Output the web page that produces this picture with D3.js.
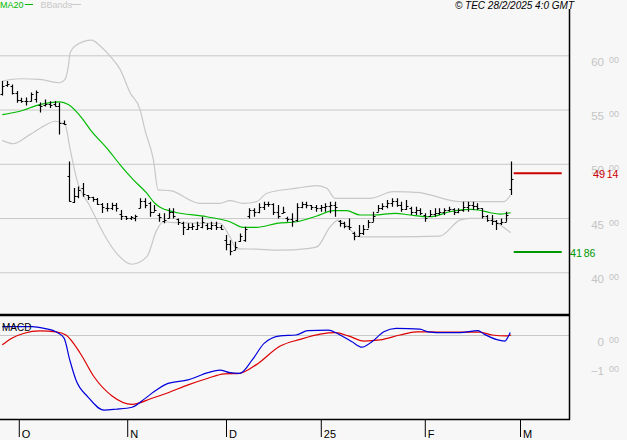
<!DOCTYPE html>
<html><head><meta charset="utf-8">
<script src="https://cdn.jsdelivr.net/npm/d3@7"></script>
<style>html,body{margin:0;padding:0;background:#f7f7f7;}svg{display:block;}</style>
</head><body><svg id="c" width="627" height="440"></svg>
<script>
// ---- data ----
const opens = [
56.4,57.3,57.2,56.5,55.9,55.8,55.8,56.0,55.4,55.4,
55.5,55.5,55.3,53.8,48.9,46.5,47.0,47.8,47.1,46.9,
46.8,46.3,45.9,45.9,46.2,45.4,45.2,45.0,45.0,45.9,
46.6,46.4,45.6,45.3,44.7,45.0,45.6,44.9,44.5,44.0,
44.2,44.0,44.2,44.4,44.1,44.4,44.2,43.0,42.6,42.1,
42.9,43.0,45.2,45.7,45.6,46.0,46.3,46.3,45.6,45.5,
45.0,44.9,44.8,46.0,46.3,46.2,46.0,45.9,46.0,46.1,
46.2,44.7,44.5,44.3,43.6,43.3,43.6,44.0,44.6,45.6,
45.9,46.1,46.4,46.6,46.2,45.8,45.9,45.6,45.7,45.3,
45.2,45.4,45.5,45.6,45.7,45.8,45.6,45.7,46.0,46.2,
46.1,45.9,45.2,44.8,44.7,44.5,44.6,47.66];
const highs = [
57.62,57.62,57.31,56.70,56.08,56.10,56.57,56.76,55.65,55.93,
55.77,55.77,55.62,54.00,50.21,47.78,47.90,48.24,47.13,46.97,
46.85,46.39,46.39,46.42,46.39,45.74,45.20,45.20,45.30,46.82,
46.82,46.51,46.20,45.44,45.44,45.90,45.90,44.97,44.66,44.51,
44.51,44.66,45.12,44.51,44.66,44.66,44.35,43.43,42.96,42.81,
43.58,44.20,45.90,45.90,46.36,46.51,46.51,46.36,46.20,46.05,
45.12,45.44,46.36,46.51,46.51,46.20,46.20,46.20,46.36,46.51,
46.51,44.81,44.66,44.97,43.74,44.35,44.35,44.81,45.58,46.20,
46.36,46.67,46.82,46.82,46.51,46.67,46.05,46.05,45.90,45.44,
45.74,45.90,45.90,45.90,46.05,45.90,45.90,46.51,46.51,46.51,
46.36,45.90,45.28,45.28,44.81,44.97,45.58,50.21];
const lows = [
56.30,57.10,56.39,55.62,55.62,55.37,55.74,55.65,54.72,55.28,
55.15,55.28,52.69,53.60,46.51,46.39,46.82,46.97,46.67,46.50,
46.20,45.46,45.60,45.74,45.60,44.81,44.81,44.81,44.70,45.90,
45.90,45.12,45.58,44.66,44.51,44.97,44.97,44.35,43.43,43.89,
43.89,43.89,44.05,43.89,43.89,43.89,43.89,42.04,41.57,42.04,
42.81,42.81,44.97,45.12,45.44,45.74,46.05,45.28,44.97,45.44,
44.66,44.20,44.66,45.90,45.90,45.74,45.58,45.58,45.58,45.44,
45.12,44.20,44.05,43.89,42.96,43.27,43.43,44.05,44.66,45.58,
45.74,45.90,46.05,46.05,45.58,45.74,45.28,45.28,45.28,44.66,
45.12,45.12,45.28,45.28,45.58,45.28,45.44,45.58,45.58,45.74,
45.74,44.97,44.66,44.35,43.89,44.35,44.66,47.13];
const closes = [
57.20,57.40,56.50,55.90,55.80,55.80,56.40,56.60,55.30,55.55,
55.40,55.30,53.80,53.70,46.60,47.00,47.60,47.20,46.90,46.80,
46.30,46.00,45.90,46.20,45.90,45.20,45.00,45.10,45.20,46.60,
46.20,45.60,45.70,45.10,44.80,45.60,45.20,44.60,44.20,44.20,
44.30,44.40,44.60,44.10,44.40,44.20,44.00,42.60,42.00,42.30,
43.30,44.00,45.70,45.60,46.00,46.30,46.30,45.60,45.20,45.60,
44.90,44.70,46.00,46.30,46.20,46.00,45.90,46.00,46.10,46.20,
46.00,44.50,44.30,44.20,43.30,43.60,44.00,44.60,45.20,45.90,
46.10,46.40,46.60,46.20,45.80,46.10,45.60,45.70,45.50,45.00,
45.40,45.50,45.60,45.70,45.80,45.60,45.70,46.00,46.20,46.10,
45.90,45.20,44.80,44.70,44.50,44.60,45.30,48.58];

// indicator samples: [bar index, value]
const ma20 = [[0,54.54],[3.7,54.84],[7.9,55.46],[12.1,55.71],[13.9,55.46],[17,54.07],[18.5,53.15],[22,51.45],[24.8,49.91],[27.6,48.52],[30.4,47.29],[32.1,46.36],[33.2,45.99],[36,45.58],[43,45.12],[47.9,44.66],[50.7,44.14],[53.5,44.14],[57.8,44.51],[62,44.66],[66.2,45.19],[69.7,45.68],[72.5,45.68],[75.3,45.28],[78.1,45.28],[82.7,45.44],[85.8,45.28],[90,45.12],[94.2,45.58],[98.5,45.80],[100.2,45.74],[102.7,45.49],[104.8,45.37],[107,45.49]];
const bbUpper = [[0,57.62],[3.7,57.84],[7.9,57.78],[12.1,57.47],[13.2,57.78],[13.9,59.01],[14.3,60.25],[15.3,60.86],[18.8,61.39],[20.6,60.86],[22.7,59.93],[24.8,58.70],[26.9,56.55],[29,55.00],[30,53.15],[31.8,50.37],[32.8,47.59],[35.3,47.53],[41.6,46.36],[45.8,46.36],[47.9,46.60],[50.7,46.36],[53.5,46.51],[55.7,47.29],[62,47.75],[66.2,47.99],[68.3,47.75],[70,46.82],[77.4,46.82],[82.3,47.44],[87.9,47.34],[90,47.13],[96.3,46.51],[105.5,46.51],[107,47.13]];
const bbLower = [[0,52.16],[2.3,51.85],[5.8,52.69],[8.6,53.45],[11.1,53.92],[13.2,53.61],[14.3,51.30],[15.7,48.52],[18.5,46.05],[21.3,43.58],[24.1,41.73],[27.2,40.74],[30.4,41.42],[32.5,43.89],[33.9,44.66],[36,44.57],[45.8,44.51],[47.9,43.27],[49.3,42.19],[53.5,42.13],[58.5,42.04],[64.1,42.19],[66.2,42.34],[69,44.19],[70.7,44.81],[75.3,43.27],[82.7,43.27],[92.1,43.33],[96.3,44.81],[98.4,44.97],[102.7,44.97],[104.8,44.35],[107,43.64]];
const macdLine = [[0,0.29],[6.3,0.29],[8.8,0.23],[11.3,0.11],[13,-0.11],[14.2,-0.86],[15.5,-1.55],[18,-2.13],[21.4,-2.59],[23.9,-2.56],[27.3,-2.49],[29.8,-2.22],[31.9,-1.96],[34.9,-1.67],[39.1,-1.55],[43.3,-1.30],[45.8,-1.21],[47.9,-1.30],[50,-1.32],[52.6,-0.86],[55.1,-0.29],[58.5,-0.03],[61.8,0],[64.3,0.15],[68.6,0.17],[71.1,0],[73.6,-0.23],[75.7,-0.42],[77.8,-0.23],[80.3,0.11],[82.9,0.23],[87.9,0.20],[89.6,0.11],[93,0.08],[96.3,0.08],[100.1,0.15],[101.4,0.03],[103.9,-0.15],[105.8,-0.21],[106.3,-0.11],[106.9,0.09]];
const signalLine = [[0,-0.34],[2,-0.11],[4.6,0.06],[7.9,0.14],[11.3,0.11],[13.4,0],[16.4,-0.63],[19.3,-1.44],[23.1,-2.10],[27.3,-2.39],[31.5,-2.18],[34.9,-1.99],[39.1,-1.72],[43.3,-1.49],[46.7,-1.34],[50,-1.32],[53.4,-1.03],[58.5,-0.38],[62.7,-0.15],[66.9,0.03],[70.2,0.08],[72.8,-0.03],[76.1,-0.21],[79.5,-0.17],[83.7,0],[87.1,0.11],[92.1,0.10],[100.5,0.10],[103.1,0],[106,-0.03],[107.1,0]];

const monthLabels = ["O","N","D","25","F","M"];
const monthPos = [3.47, 26.29, 47.08, 67.03, 88.92, 108.96];
const priceTicks = [40,45,50,55,60];
const macdTicks = [0,-1];
const resistance = 49.14, support = 41.86;
const headerText = "\u00A9 TEC 28/2/2025 4:0 GMT";

// ---- drawing ----
const FONT = "'Liberation Sans', Arial, sans-serif";
const svg = d3.select("#c");
svg.append("rect").attr("width",627).attr("height",440).attr("fill","#f7f7f7");

const x = d3.scaleLinear().domain([0,107]).range([2.3,510.7]);
const y = d3.scaleLinear().domain([40,60]).range([272.3,55.3]);
const ym = d3.scaleLinear().domain([-1,0]).range([364,335]);
const PW = 569;

function splitLabels(g, bigX, smallX){
  g.each(function(d){
    const s = d3.format(".2f")(d).split(".");
    const t = d3.select(this);
    t.append("text").attr("x",bigX).attr("y",10).attr("text-anchor","end")
      .attr("fill","#c4c4c4").attr("font-family",FONT).attr("font-size","11.5px").text(s[0]);
    t.append("text").attr("x",smallX).attr("y",7).attr("text-anchor","end")
      .attr("fill","#c4c4c4").attr("font-family",FONT).attr("font-size","9px").text(s[1]);
  });
}

// price grid + labels
const gp = svg.append("g").call(d3.axisRight(y).tickValues(priceTicks).tickSize(PW).tickFormat(""));
gp.select(".domain").remove();
gp.selectAll(".tick line").attr("stroke","#c8c8c8");
splitLabels(gp.selectAll(".tick"), 604, 619);

// macd grid + labels
const gm = svg.append("g").call(d3.axisRight(ym).tickValues(macdTicks).tickSize(PW).tickFormat(""));
gm.select(".domain").remove();
gm.selectAll(".tick line").attr("stroke", d => d===0 ? "#c8c8c8" : "none");
splitLabels(gm.selectAll(".tick"), 604, 619);

// bollinger + ma
const pl = d3.line().x(d=>x(d[0])).y(d=>y(d[1])).curve(d3.curveMonotoneX);
svg.append("path").attr("d",pl(bbUpper)).attr("fill","none").attr("stroke","#c8c8c8").attr("stroke-width",1.2);
svg.append("path").attr("d",pl(bbLower)).attr("fill","none").attr("stroke","#c8c8c8").attr("stroke-width",1.2);
svg.append("path").attr("d",pl(ma20)).attr("fill","none").attr("stroke","#00bb00").attr("stroke-width",1.2);

// OHLC bars
svg.append("g").selectAll("path").data(d3.range(closes.length)).join("path")
  .attr("d", i => {
    const xi = Math.round(x(i)) + 0.5;
    const yo = Math.round(y(opens[i])) + 0.5, yc = Math.round(y(closes[i])) + 0.5;
    return `M${xi},${y(highs[i])}V${y(lows[i])}M${xi-2},${yo}H${xi}M${xi},${yc}H${xi+2}`;
  })
  .attr("stroke","#000").attr("stroke-width",1.2).attr("fill","none");

// resistance / support
const lx0 = x(closes.length-1) + 3, lx1 = lx0 + 48;
svg.append("line").attr("x1",lx0).attr("x2",lx1).attr("y1",y(resistance)).attr("y2",y(resistance))
  .attr("stroke","#cc0000").attr("stroke-width",2);
svg.append("line").attr("x1",lx0).attr("x2",lx1).attr("y1",y(support)).attr("y2",y(support))
  .attr("stroke","#009900").attr("stroke-width",2);
function levelLabel(v, xs, color){
  const s = d3.format(".2f")(v).split(".");
  const t = svg.append("text").attr("x",xs).attr("y",y(v)+5).attr("fill",color)
    .attr("font-family",FONT).attr("font-size","11px");
  t.append("tspan").text(s[0]);
  t.append("tspan").attr("dx",1.5).attr("font-size","10.5px").text(s[1]);
}
levelLabel(resistance, 593, "#cc0000");
levelLabel(support, 570, "#009900");

// MACD lines
const ml = d3.line().x(d=>x(d[0])).y(d=>ym(d[1])).curve(d3.curveMonotoneX);
svg.append("path").attr("d",ml(signalLine)).attr("fill","none").attr("stroke","#dd0000").attr("stroke-width",1.2);
svg.append("path").attr("d",ml(macdLine)).attr("fill","none").attr("stroke","#0000dd").attr("stroke-width",1.2);
svg.append("text").attr("x",2).attr("y",331).attr("fill","#000").attr("font-family",FONT)
  .attr("font-size","10px").text("MACD");

// frame
svg.append("line").attr("x1",PW+0.5).attr("x2",PW+0.5).attr("y1",9).attr("y2",420)
  .attr("stroke","#000").attr("stroke-width",1.5);
svg.append("line").attr("x1",0).attr("x2",PW+1).attr("y1",315).attr("y2",315)
  .attr("stroke","#000").attr("stroke-width",2.5);
svg.append("line").attr("x1",0).attr("x2",PW+1).attr("y1",419.5).attr("y2",419.5)
  .attr("stroke","#000").attr("stroke-width",1.5);

// bottom axis
const gx = svg.append("g").attr("transform","translate(0,419)")
  .call(d3.axisBottom(x).tickValues(monthPos).tickSize(18).tickFormat((d,i)=>monthLabels[i]));
gx.select(".domain").remove();
gx.selectAll(".tick line").attr("stroke","#000");
gx.selectAll(".tick text").attr("x",2.5).attr("y",18.5).attr("dy",0).attr("text-anchor","start")
  .attr("fill","#000").attr("font-family",FONT).attr("font-size","11px");

// header
svg.append("text").attr("x",0).attr("y",8).attr("fill","#00bb00").attr("font-family",FONT)
  .attr("font-size","9px").text("MA20");
svg.append("line").attr("x1",25).attr("x2",33).attr("y1",4.5).attr("y2",4.5).attr("stroke","#00bb00");
svg.append("text").attr("x",40.5).attr("y",8).attr("fill","#c8c8c8").attr("font-family",FONT)
  .attr("font-size","9px").text("BBands");
svg.append("line").attr("x1",71).attr("x2",81).attr("y1",4.5).attr("y2",4.5).attr("stroke","#c8c8c8");
svg.append("text").attr("x",574).attr("y",8.5).attr("text-anchor","end").attr("fill","#000")
  .attr("font-family",FONT).attr("font-style","italic").attr("font-size","10px").text(headerText);
</script></body></html>
